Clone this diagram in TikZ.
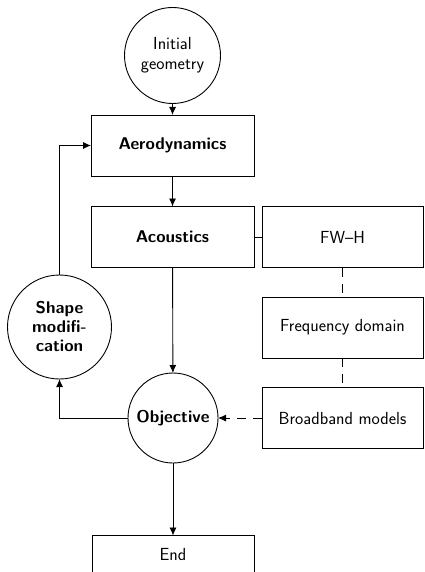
\documentclass[tikz,border=0pt]{standalone}
\usetikzlibrary{arrows.meta}
\begin{document}
\begin{tikzpicture}[x=1pt,y=-1pt,
  font=\sffamily\fontsize{17.5}{20}\selectfont,
  every node/.style={inner sep=0pt, outer sep=0pt},
  box/.style={draw, line width=0.9pt, minimum height=61pt, align=center},
  boldtext/.style={font=\sffamily\bfseries\fontsize{17}{19}\selectfont},
  mainbox/.style={box, minimum width=163pt, boldtext},
  sidebox/.style={box, minimum width=161pt},
  roundnode/.style={draw, circle, line width=0.9pt, align=center},
  flow/.style={line width=0.9pt, -{Latex[length=8pt,width=7pt]}},
  link/.style={line width=0.9pt},
  dlink/.style={line width=0.9pt, dash pattern=on 9pt off 7pt}
]
\useasboundingbox (0,0) rectangle (424,572);

% main column
\node[roundnode, minimum size=96pt] (init) at (172.5,55.5) {Initial\\geometry};
\node[mainbox] (aero) at (172.5,145.5) {Aerodynamics};
\node[mainbox] (acou) at (172.5,237) {Acoustics};
\node[roundnode, minimum size=90pt, boldtext] (obj) at (173,418) {Objective};
\node[box, minimum width=162pt, minimum height=38pt, anchor=north] (end) at (173,535.5) {End};

% feedback loop
\node[roundnode, minimum size=104pt, boldtext] (shape) at (59.5,327) {Shape\\modifi-\\cation};

% acoustic methods
\node[sidebox] (fwh) at (342.5,237) {FW--H};
\node[sidebox] (freq) at (342.5,327.5) {Frequency domain};
\node[sidebox] (bb) at (342.5,418) {Broadband models};

% connectors
\draw[flow] (init) -- (aero);
\draw[flow] (aero) -- (acou);
\draw[flow] (acou) -- (obj);
\draw[flow] (obj) -- (end);
\draw[flow] (obj.west) -| (shape.south);
\draw[flow] (shape.north) |- (aero.west);
\draw[link] (acou.east) -- (fwh.west);
\draw[dlink] (fwh.south) -- (freq.north);
\draw[dlink] (freq.south) -- (bb.north);
\draw[dlink, -{Latex[length=8pt,width=7pt]}] (bb.west) -- (obj.east);
\end{tikzpicture}
\end{document}
